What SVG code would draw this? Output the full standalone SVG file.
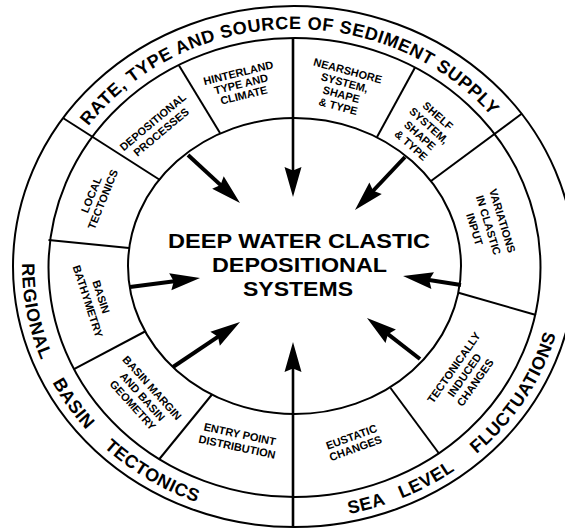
<svg xmlns="http://www.w3.org/2000/svg" width="565" height="530" viewBox="0 0 565 530">
<style>
.ln{stroke:#000;stroke-width:2;fill:none}
.ar{stroke:#000;stroke-width:4;fill:none;marker-end:url(#ah)}
.av{stroke:#000;stroke-width:2.6;fill:none;marker-end:url(#ah)}
.lb{font-family:"Liberation Sans",Arial,sans-serif;font-weight:bold;font-size:11px;text-anchor:middle;fill:#000}
.band{font-family:"Liberation Sans",Arial,sans-serif;font-weight:bold;font-size:18px;fill:#000;letter-spacing:0.6px}
.ctr{font-family:"Liberation Sans",Arial,sans-serif;font-weight:bold;font-size:20.5px;text-anchor:middle;fill:#000}
</style>
<defs>
<marker id="ah" viewBox="-12 -10 34 20" refX="0" refY="0" markerWidth="34" markerHeight="20" markerUnits="userSpaceOnUse" orient="auto">
<path d="M20,0 L-10,-8.5 L-6.5,0 L-10,8.5 Z" fill="#000"/>
</marker>
<path id="topArc" d="M 39,267 A 255 238 0 0 1 549,267"/>
<path id="lowArc" d="M 58.44,141 A 272 252 0 1 0 529.56,141"/>
</defs>
<rect x="0" y="0" width="565" height="530" fill="#fff"/>

<g id="rings">
<ellipse class="ln" cx="294" cy="266.5" rx="281" ry="260.5"/>
<ellipse class="ln" cx="294.5" cy="267.5" rx="246" ry="229.5"/>
<ellipse class="ln" cx="294.5" cy="266" rx="166.5" ry="148"/>
</g>

<g id="connectors">
<line class="ln" x1="415" y1="67.5" x2="377" y2="137"/>
<line class="ln" x1="522" y1="113.5" x2="431" y2="181"/>
<line class="ln" x1="458.5" y1="292.8" x2="536" y2="315"/>
<line class="ln" x1="390.5" y1="388" x2="439" y2="453.5"/>
<line class="ln" x1="212" y1="394.5" x2="159" y2="459.5"/>
<line class="ln" x1="145" y1="331.5" x2="73.5" y2="369.3"/>
<line class="ln" x1="48.5" y1="240" x2="129" y2="248"/>
<line class="ln" x1="63" y1="118" x2="160" y2="180"/>
<line class="ln" x1="179" y1="65.5" x2="220" y2="133"/>
<line class="av" x1="293" y1="38" x2="293" y2="177"/>
<line class="av" x1="293" y1="527" x2="293" y2="362"/>
<line class="ar" x1="188" y1="155" x2="225.3" y2="189.4"/>
<line class="ar" x1="405" y1="157" x2="368.7" y2="195.5"/>
<line class="ar" x1="130" y1="287" x2="180.2" y2="280.5"/>
<line class="ar" x1="461" y1="285" x2="422.8" y2="279.1"/>
<line class="ar" x1="173" y1="367" x2="223.4" y2="333.2"/>
<line class="ar" x1="420" y1="359" x2="382.8" y2="330.2"/>
</g>

<g id="band-top">
<text class="band" text-anchor="middle"><textPath href="#topArc" startOffset="380.8">RATE, TYPE AND SOURCE OF SEDIMENT SUPPLY</textPath></text>
</g>
<g id="band-left">
<text class="band" text-anchor="middle"><textPath href="#lowArc" startOffset="179">REGIONAL</textPath></text>
<text class="band" text-anchor="middle"><textPath href="#lowArc" startOffset="283">BASIN</textPath></text>
<text class="band" text-anchor="middle"><textPath href="#lowArc" startOffset="391">TECTONICS</textPath></text>
</g>
<g id="band-right">
<text class="band" text-anchor="middle"><textPath href="#lowArc" startOffset="619">SEA</textPath></text>
<text class="band" text-anchor="middle"><textPath href="#lowArc" startOffset="685">LEVEL</textPath></text>
<text class="band" text-anchor="middle"><textPath href="#lowArc" startOffset="815">FLUCTUATIONS</textPath></text>
</g>

<g id="center">
<text class="ctr" x="299" y="248" textLength="262" lengthAdjust="spacingAndGlyphs">DEEP WATER CLASTIC</text>
<text class="ctr" x="299.5" y="272" textLength="175" lengthAdjust="spacingAndGlyphs">DEPOSITIONAL</text>
<text class="ctr" x="298" y="296" textLength="110" lengthAdjust="spacingAndGlyphs">SYSTEMS</text>
</g>

<g id="hinterland" transform="translate(241,84) rotate(-14)">
<text class="lb" y="-7.6">HINTERLAND</text>
<text class="lb" y="3.9">TYPE AND</text>
<text class="lb" y="15.4">CLIMATE</text>
</g>
<g id="nearshore" transform="translate(343,88.5) rotate(15)">
<text class="lb" y="-14.55">NEARSHORE</text>
<text class="lb" y="-2.25">SYSTEM,</text>
<text class="lb" y="10.05">SHAPE</text>
<text class="lb" y="22.35">&amp; TYPE</text>
</g>
<g id="shelf" transform="translate(424.5,130.5) rotate(42)">
<text class="lb" y="-16.05">SHELF</text>
<text class="lb" y="-2.75">SYSTEM,</text>
<text class="lb" y="10.55">SHAPE</text>
<text class="lb" y="23.85">&amp; TYPE</text>
</g>
<g id="variations" transform="translate(488.5,225) rotate(73)">
<text class="lb" y="-10.6">VARIATIONS</text>
<text class="lb" y="3.9">IN CLASTIC</text>
<text class="lb" y="18.4">INPUT</text>
</g>
<g id="tectonically" transform="translate(464.5,375) rotate(-55)">
<text class="lb" y="-9.1">TECTONICALLY</text>
<text class="lb" y="3.9">INDUCED</text>
<text class="lb" y="16.9">CHANGES</text>
</g>
<g id="eustatic" transform="translate(353.5,442.5) rotate(-20)">
<text class="lb" y="-2.1">EUSTATIC</text>
<text class="lb" y="9.9">CHANGES</text>
</g>
<g id="entry" transform="translate(238.5,440.5) rotate(12)">
<text class="lb" y="-2.6">ENTRY POINT</text>
<text class="lb" y="10.4">DISTRIBUTION</text>
</g>
<g id="margin" transform="translate(142.5,396.5) rotate(48)">
<text class="lb" y="-9.1">BASIN MARGIN</text>
<text class="lb" y="3.9">AND BASIN</text>
<text class="lb" y="16.9">GEOMETRY</text>
</g>
<g id="bathymetry" transform="translate(94.5,299) rotate(72)">
<text class="lb" y="-3.1">BASIN</text>
<text class="lb" y="10.9">BATHYMETRY</text>
</g>
<g id="local" transform="translate(97,197) rotate(-68)">
<text class="lb" y="-2.35">LOCAL</text>
<text class="lb" y="10.15">TECTONICS</text>
</g>
<g id="depositional" transform="translate(157,127) rotate(-40)">
<text class="lb" y="-2.6">DEPOSITIONAL</text>
<text class="lb" y="10.4">PROCESSES</text>
</g>
</svg>
